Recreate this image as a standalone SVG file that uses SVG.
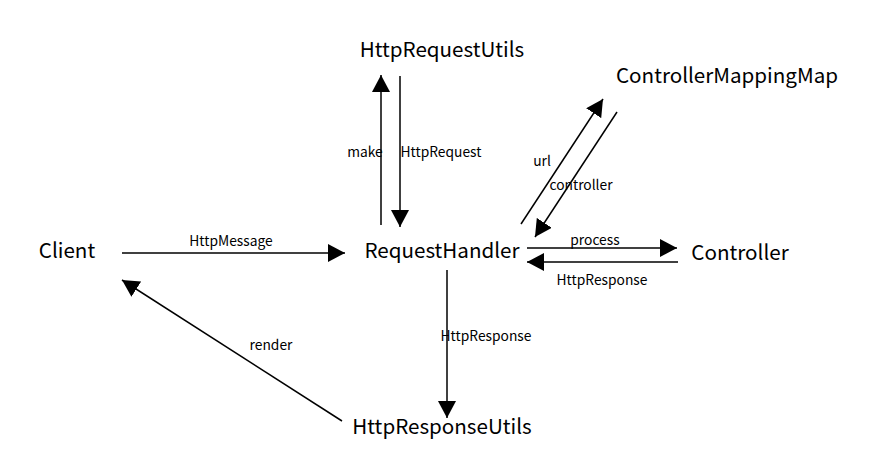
<svg xmlns="http://www.w3.org/2000/svg" width="870" height="474" viewBox="0 0 870 474">
<defs>
<marker id="ah" markerWidth="18" markerHeight="18" refX="17" refY="9" orient="auto" markerUnits="userSpaceOnUse">
<path d="M0,0 L17,9 L0,18 Z" fill="#000"/>
</marker>
<style>
.node{font-family:"Noto Sans CJK SC","Noto Sans",sans-serif;font-size:20.6px;fill:#000}
.lbl{font-family:"Noto Sans CJK SC","Noto Sans",sans-serif;font-size:13.8px;fill:#000}
.c{stroke:#000;stroke-width:1.5;fill:none;marker-end:url(#ah)}
</style>
</defs>
<rect width="870" height="474" fill="#fff"/>
<g id="connectors">
<line class="c" x1="122" y1="253" x2="345" y2="253"/>
<text class="lbl" x="231" y="246" text-anchor="middle">HttpMessage</text>
<line class="c" x1="381" y1="225" x2="381" y2="75"/>
<text class="lbl" x="365" y="157" text-anchor="middle">make</text>
<line class="c" x1="400" y1="76" x2="400" y2="227"/>
<text class="lbl" x="441" y="157" text-anchor="middle">HttpRequest</text>
<line class="c" x1="521" y1="224" x2="603" y2="99"/>
<text class="lbl" x="542" y="166" text-anchor="middle">url</text>
<line class="c" x1="617" y1="112" x2="535" y2="237"/>
<text class="lbl" x="581" y="190" text-anchor="middle">controller</text>
<line class="c" x1="527" y1="248" x2="677" y2="248"/>
<text class="lbl" x="595" y="245" text-anchor="middle">process</text>
<line class="c" x1="678" y1="262" x2="527" y2="262"/>
<text class="lbl" x="602" y="285" text-anchor="middle">HttpResponse</text>
<line class="c" x1="447" y1="270" x2="447" y2="418"/>
<text class="lbl" x="486" y="341" text-anchor="middle">HttpResponse</text>
<line class="c" x1="342" y1="421" x2="122" y2="280"/>
<text class="lbl" x="271" y="350" text-anchor="middle">render</text>
</g>
<g id="client"><text class="node" x="67" y="258" text-anchor="middle">Client</text></g>
<g id="requestHandler"><text class="node" x="442" y="258" text-anchor="middle">RequestHandler</text></g>
<g id="httpRequestUtils"><text class="node" x="442" y="57" text-anchor="middle">HttpRequestUtils</text></g>
<g id="controllerMappingMap"><text class="node" x="727" y="83" text-anchor="middle">ControllerMappingMap</text></g>
<g id="controller"><text class="node" x="740" y="260" text-anchor="middle">Controller</text></g>
<g id="httpResponseUtils"><text class="node" x="442" y="434" text-anchor="middle">HttpResponseUtils</text></g>
</svg>
